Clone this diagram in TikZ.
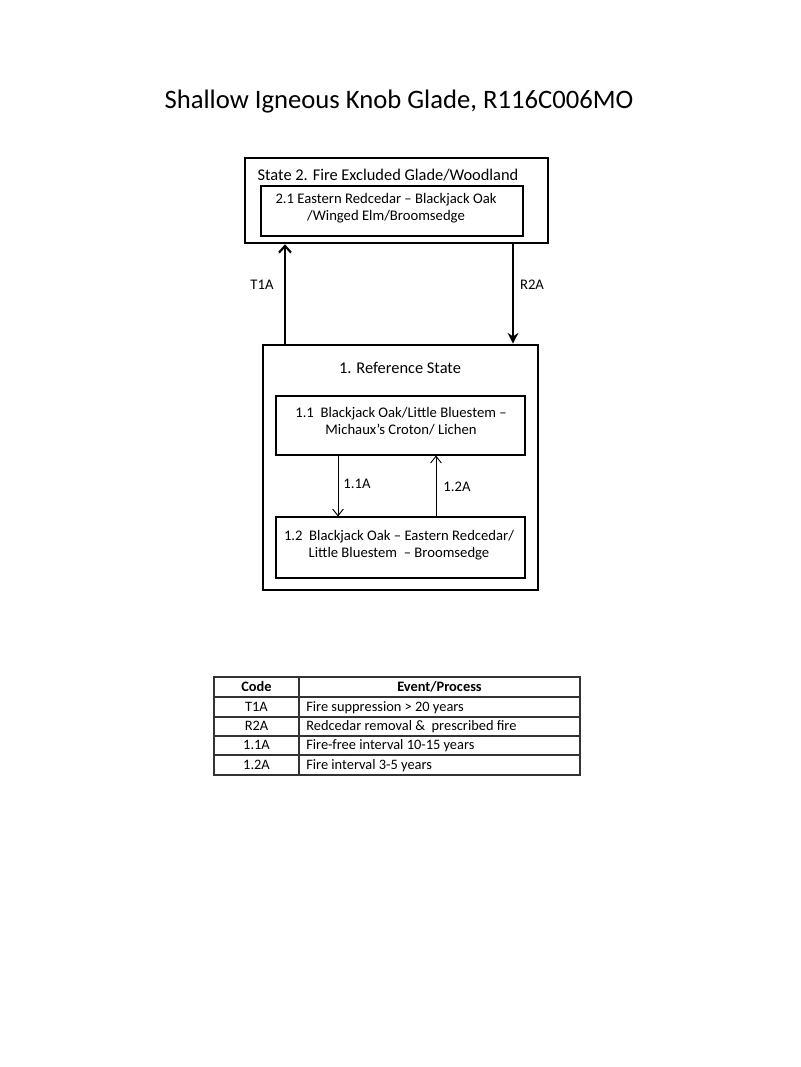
\documentclass[tikz,border=0pt]{standalone}
\usepackage{fontspec}
\setmainfont{Carlito}
\usetikzlibrary{fit,arrows.meta}
\begin{document}
\begin{tikzpicture}[x=0.75pt,y=-0.75pt,
  outerbox/.style={draw,line width=2pt,inner sep=0pt},
  innerbox/.style={draw,line width=0.8pt,inner sep=0pt},
  boxtitle/.style={font=\fontsize{12.3}{14}\selectfont,inner sep=0pt},
  boxtext/.style={font=\fontsize{11}{12.8}\selectfont,align=center,inner sep=0pt},
  lbl/.style={font=\fontsize{11}{12}\selectfont,inner sep=0pt},
  cell/.style={font=\fontsize{10.8}{12}\selectfont,inner sep=0pt,text height=7.2pt,text depth=2.2pt},
  bigarrow/.style={line width=1.6pt,-{Straight Barb[length=5pt,width=9pt,line width=1.6pt]}},
  bigarrowf/.style={line width=2pt,-{Stealth[length=8pt,width=8pt]}},
  smallarrow/.style={line width=0.7pt,-{Straight Barb[length=5pt,width=8pt,line width=0.7pt]}},
  tline/.style={line width=0.8pt,draw=black!80}]
\useasboundingbox (0,0) rectangle (800,1067);
\fill[white] (0,0) rectangle (800,1067);

\node[font=\fontsize{20}{24}\selectfont,inner sep=0pt] (title) at (399,102) {Shallow Igneous Knob Glade, R116C006MO};

% State 2
\node[outerbox,fit={(245,158)(548,243)}] (s2) {};
\node[boxtitle] (s2t) at (388,175) {State 2. Fire Excluded Glade/Woodland};
\node[innerbox,fit={(261,186)(523,236)}] (b21) {};
\node[boxtext] (b21t) at (386,208.5) {2.1 Eastern Redcedar -- Blackjack Oak\\/Winged Elm/Broomsedge};

% State 1
\node[outerbox,fit={(263,345)(538,590)}] (s1) {};
\node[boxtitle] (s1t) at (400,368) {1. Reference State};
\node[innerbox,fit={(276,396)(525,455)}] (b11) {};
\node[boxtext] (b11t) at (401,421) {1.1\ \ Blackjack Oak/Little Bluestem --\\Michaux's Croton/ Lichen};
\node[innerbox,fit={(276,517)(525,578)}] (b12) {};
\node[boxtext] (b12t) at (399,545.5) {1.2\ \ Blackjack Oak -- Eastern Redcedar/\\Little Bluestem\ \ -- Broomsedge};

% transitions
\coordinate (xt1) at (285,0);
\coordinate (xr2) at (513,0);
\coordinate (x11) at (338,0);
\coordinate (x12) at (436,0);
\draw[bigarrow] (xt1 |- s1.north) -- (xt1 |- s2.south);
\draw[bigarrowf] (xr2 |- s2.south) -- (xr2 |- s1.north);
\node[lbl] (lt1) at (262,285) {T1A};
\node[lbl] (lr2) at (532,285) {R2A};
\draw[smallarrow] (x11 |- b11.south) -- (x11 |- b12.north);
\draw[smallarrow] (x12 |- b12.north) -- (x12 |- b11.south);
\node[lbl] (l11) at (357,484) {1.1A};
\node[lbl] (l12) at (457,487) {1.2A};

% table
\coordinate (tl) at (214,677);
\coordinate (br) at (580,775);
\draw[tline] (tl) rectangle (br);
\draw[tline] (299,677) -- (299,775);
\foreach \yy in {697,717,736,755} \draw[tline] (214,\yy) -- (580,\yy);
\node[cell,font=\fontsize{10.8}{12}\selectfont\bfseries] (h1) at (256.5,688) {Code};
\node[cell,font=\fontsize{10.8}{12}\selectfont\bfseries] (h2) at (439.5,688) {Event/Process};
\node[cell] (c1) at (256.5,708) {T1A};
\node[cell] (c2) at (256.5,727.5) {R2A};
\node[cell] (c3) at (256.5,746.5) {1.1A};
\node[cell] (c4) at (256.5,766) {1.2A};
\node[cell,anchor=west] (e1) at (306,708) {Fire suppression > 20 years};
\node[cell,anchor=west] (e2) at (306,727.5) {Redcedar removal \&\ \ prescribed fire};
\node[cell,anchor=west] (e3) at (306,746.5) {Fire-free interval 10-15 years};
\node[cell,anchor=west] (e4) at (306,766) {Fire interval 3-5 years};
\end{tikzpicture}
\end{document}
